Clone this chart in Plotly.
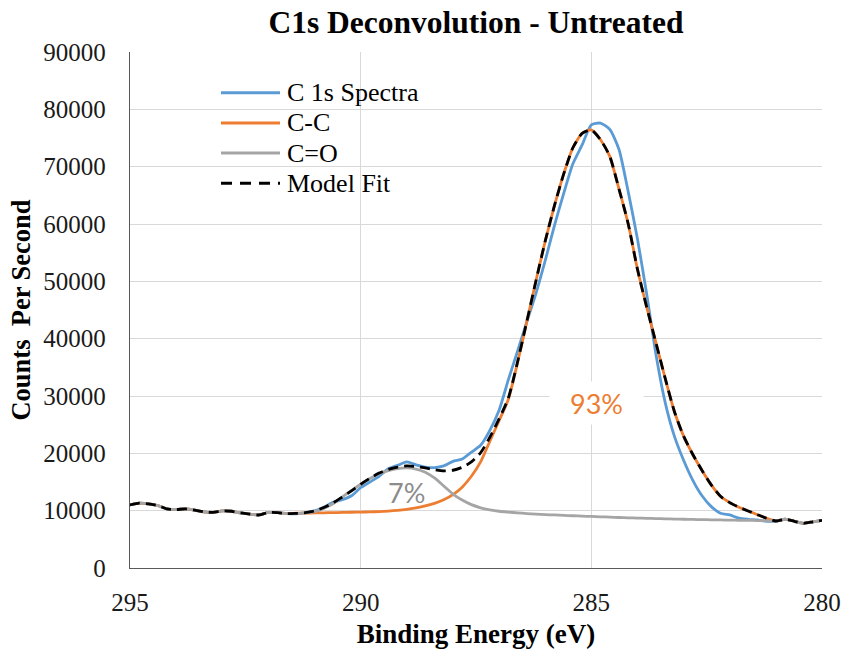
import plotly.graph_objects as go

# ---------------- data ----------------
energy = [295.0, 294.8, 294.6, 294.4, 294.2, 294.0, 293.8, 293.6, 293.4, 293.2,
          293.0, 292.8, 292.6, 292.4, 292.2, 292.0, 291.8, 291.6, 291.4, 291.2,
          291.0, 290.8, 290.6, 290.4, 290.2, 290.0, 289.8, 289.6, 289.4, 289.2,
          289.0, 288.8, 288.6, 288.4, 288.2, 288.0, 287.8, 287.6, 287.4, 287.2,
          287.0, 286.8, 286.6, 286.4, 286.2, 286.0, 285.8, 285.6, 285.4, 285.2,
          285.0, 284.8, 284.6, 284.4, 284.2, 284.0, 283.8, 283.6, 283.4, 283.2,
          283.0, 282.8, 282.6, 282.4, 282.2, 282.0, 281.8, 281.6, 281.4, 281.2,
          281.0, 280.8, 280.6, 280.4, 280.2, 280.0]

# shared background region (295 -> 291.6) where all curves coincide
left_common = [11000, 11300, 11200, 10900, 10300, 10200, 10300, 10100, 9800, 9700,
               9950, 9900, 9600, 9400, 9250, 9700, 9650, 9500]
# shared region at the low-energy end (281.0 -> 280.0)
right_common = [8200, 8500, 8150, 7800, 8050, 8300]

spectrum_mid = [9450, 9600, 9950, 10600, 11450, 11900, 12600, 14000, 15000, 16000,
                17300, 17900, 18500, 18000, 17600, 17500, 17800, 18600, 19000, 20200,
                21400, 24000, 27500, 32800, 37800, 42900, 47900, 53600, 59700, 65300,
                70500, 73800, 77300, 77600, 76500, 73000, 65600, 57400, 47800, 37300,
                28900, 23000, 18800, 15300, 12600, 10700, 9540, 9250, 8700, 8500,
                8370, 8150]

cc_mid = [9550, 9580, 9600, 9630, 9660, 9690, 9720, 9750, 9790, 9840,
          9920, 10040, 10220, 10480, 10820, 11280, 11900, 12800, 14100, 16000,
          18500, 22100, 25700, 29400, 35800, 42900, 50100, 57000, 63200, 68700,
          73300, 75800, 76400, 74700, 71800, 66100, 60000, 52100, 45500, 39300,
          33100, 27300, 23000, 19800, 17000, 14500, 12500, 11400, 10600, 9950,
          9300, 8670]

co_mid = [9500, 9600, 9850, 10400, 11200, 12400, 13500, 14600, 15600, 16450,
          17000, 17350, 17450, 17250, 16700, 15700, 14300, 12900, 11850, 11050,
          10500, 10150, 9900, 9750, 9620, 9500, 9400, 9320, 9250, 9180,
          9110, 9050, 8990, 8930, 8870, 8810, 8760, 8710, 8660, 8620,
          8580, 8540, 8500, 8470, 8440, 8410, 8380, 8350, 8320, 8300,
          8280, 8250]

fit_mid = [9520, 9650, 9950, 10550, 11350, 12350, 13450, 14600, 15650, 16550,
           17200, 17600, 17800, 17700, 17450, 17150, 16950, 17050, 17550, 18500,
           20100, 22800, 26000, 29600, 35900, 42950, 50100, 57000, 63200, 68700,
           73300, 75800, 76400, 74700, 71800, 66100, 60000, 52100, 45500, 39300,
           33100, 27300, 23000, 19800, 17000, 14500, 12500, 11400, 10600, 9950,
           9300, 8670]

spectrum = left_common + spectrum_mid + right_common
cc = left_common + cc_mid + right_common
co = left_common + co_mid + right_common
fit = left_common + fit_mid + right_common

series_names = ["C 1s Spectra", "C-C", "C=O", "Model Fit"]
series_colors = ["#5B9BD5", "#ED7D31", "#A5A5A5", "#000000"]
series_dash = ["solid", "solid", "solid", "10px,6px"]
series_values = [spectrum, cc, co, fit]

x_ticks = [295, 290, 285, 280]
percent_labels = ["93%", "7%"]
percent_pos = [(284.88, 28800), (289.0, 13100)]
percent_colors = ["#ED7D31", "#8C8C8C"]

# ---------------- figure ----------------
L, R, T, B = 130, 23, 52, 85
W, H = 845, 653
PW, PH = W - L - R, H - T - B


def pxx(px):
    return (px - L) / PW


def pxy(py):
    return (H - B - py) / PH


fig = go.Figure()
for name, col, dash, vals in zip(series_names, series_colors, series_dash, series_values):
    fig.add_trace(go.Scatter(
        x=energy, y=vals, mode="lines", name=name,
        line=dict(color=col, width=2.8, dash=dash, shape="spline", smoothing=0.6),
        showlegend=False, hoverinfo="skip"))

serif = "Liberation Serif, Times New Roman, serif"

fig.update_layout(
    width=W, height=H,
    margin=dict(l=L, r=R, t=T, b=B, autoexpand=False),
    plot_bgcolor="white", paper_bgcolor="white",
    font=dict(family=serif, color="#000000", size=24),
    title=dict(text="<b>C1s Deconvolution - Untreated</b>", x=0.5, xref="paper",
               xanchor="center", y=1 - 22 / H, yanchor="middle",
               font=dict(family=serif, size=31.5, color="#000000")),
    xaxis=dict(range=[295, 280], tickvals=x_ticks, ticktext=[str(v) for v in x_ticks],
               showgrid=True, gridcolor="#D9D9D9", gridwidth=1,
               showline=True, linecolor="#595959", linewidth=1.3,
               zeroline=False, ticks="", ticklabelstandoff=12, automargin=False,
               tickfont=dict(family=serif, size=25, color="#1A1A1A"),
               title=dict(text="<b>Binding Energy (eV)</b>", standoff=8,
                          font=dict(family=serif, size=27, color="#000000"))),
    yaxis=dict(range=[0, 90000], dtick=10000, tickformat="d",
               showgrid=True, gridcolor="#D9D9D9", gridwidth=1,
               showline=True, linecolor="#595959", linewidth=1.3,
               zeroline=False, ticks="", ticklabelstandoff=18, automargin=False,
               tickfont=dict(family=serif, size=25, color="#1A1A1A"),
               title=dict(text="<b>Counts  Per Second</b>", standoff=5,
                          font=dict(family=serif, size=26.5, color="#000000"))),
    showlegend=False,
)

# manual legend (sample lines + labels)
shapes = []
annotations = []
for i, (name, col, dash) in enumerate(zip(series_names, series_colors, series_dash)):
    yy = pxy(92.7 + i * 30.2)
    shapes.append(dict(type="line", xref="paper", yref="paper",
                       x0=pxx(221), x1=pxx(280), y0=yy, y1=yy,
                       line=dict(color=col, width=3, dash="11px,8px" if dash != "solid" else "solid")))
    annotations.append(dict(text=name, xref="paper", yref="paper", x=pxx(285), y=yy,
                            xanchor="left", yanchor="middle", showarrow=False,
                            font=dict(family=serif, size=26, color="#000000")))

# component percentage labels
for txt, (xv, yv), col in zip(percent_labels, percent_pos, percent_colors):
    ann = dict(text=txt, x=xv, y=yv, xref="x", yref="y", showarrow=False,
               xanchor="center", yanchor="middle",
               font=dict(family="Lato, Open Sans, sans-serif", size=27, color=col))
    if txt == "93%":
        ann.update(bgcolor="white", width=81, height=30, borderpad=6)
    annotations.append(ann)

fig.update_layout(shapes=shapes, annotations=annotations)
fig.write_html("out.html")
